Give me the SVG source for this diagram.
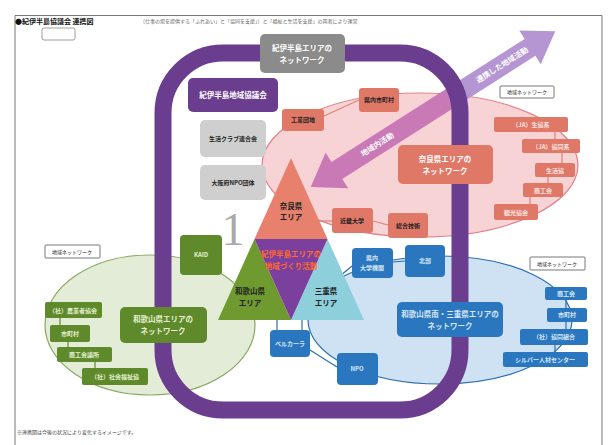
<svg xmlns="http://www.w3.org/2000/svg" width="611" height="445" viewBox="0 0 611 445">
<style>
text{font-family:"Noto Sans CJK JP","Noto Sans",sans-serif;text-anchor:middle}
.t{font-size:6px;font-weight:bold}
.tb{font-size:7.5px;font-weight:bold}
.pk{fill:#e07868}
.pkt{fill:#fde4e0}
.gr{fill:#5e8a2c}
.grt{fill:#e6f0d0}
.bl{fill:#2b77bf}
.blt{fill:#d8e8f8}
.lbl{fill:#fff;stroke:#555;stroke-width:0.8}
.cn{stroke-width:1.2;fill:none}
</style>
<rect width="611" height="445" fill="#fff"/>
<path d="M15 445 V15.5 H602 V445" fill="none" stroke="#777" stroke-width="1"/>
<text x="15" y="24" style="text-anchor:start;font-size:7px;font-weight:bold" fill="#111">●紀伊半島協議会 連携図</text>
<rect x="42" y="28" width="33" height="12" rx="2" fill="#fff" stroke="#888" stroke-width="0.8"/>
<text x="140" y="23" style="text-anchor:start;font-size:5px" fill="#666">（仕事の場を提供する「ふれあい」と「協同を支援」）と「福祉と生活を支援」の両者により運営</text>
<text x="17" y="434" style="text-anchor:start;font-size:5px" fill="#444">※連携図は今後の状況により変化するイメージです。</text>

<g id="ellipses">
<ellipse cx="420" cy="165" rx="158" ry="72" fill="#f8d3d6" stroke="#e0848a" stroke-width="1.2"/>
<ellipse cx="150" cy="325" rx="105" ry="70" fill="#e3ecd6" stroke="#8aa860" stroke-width="1.2"/>
<ellipse cx="440" cy="320" rx="132" ry="64" fill="#cfe2f3" stroke="#2a70b0" stroke-width="1.2"/>
</g>

<g id="arrows" transform="translate(460,92) rotate(-32.5)">
<polygon points="0,-10 83,-10 83,-20 113,0 83,20 83,10 0,10" fill="#b596d2"/>
<polygon points="0,-10 -146,-10 -146,-21 -177,0 -146,21 -146,10 0,10" fill="#c979b6"/>
<text x="50" y="2.5" style="font-size:7.5px;font-weight:bold" fill="#fff">連携した地域活動</text>
<text x="-98" y="2.5" style="font-size:7.5px;font-weight:bold" fill="#fff">地域内活動</text>
</g>

<g id="frame">
<rect x="163" y="53" width="297" height="357" rx="60" fill="none" stroke="#6b3d8f" stroke-width="17"/>
</g>

<g id="connectors">
<line class="cn" x1="324" y1="116" x2="359" y2="100" stroke="#e08070"/>
<line class="cn" x1="555" y1="132" x2="555" y2="139" stroke="#e08070"/>
<line class="cn" x1="562" y1="153" x2="562" y2="163" stroke="#e08070"/>
<line class="cn" x1="548" y1="177" x2="548" y2="183" stroke="#e08070"/>
<line class="cn" x1="530" y1="197" x2="530" y2="204" stroke="#e08070"/>
<line class="cn" x1="316" y1="221" x2="332" y2="221" stroke="#e08070"/>
<line class="cn" x1="373" y1="221" x2="388" y2="225" stroke="#e08070"/>
<line class="cn" x1="340" y1="276" x2="352" y2="266" stroke="#2a70b0"/>
<line class="cn" x1="393" y1="262" x2="405" y2="261" stroke="#2a70b0"/>
<line class="cn" x1="277" y1="320" x2="277" y2="330" stroke="#2a70b0"/>
<line class="cn" x1="302" y1="320" x2="302" y2="330" stroke="#2a70b0"/>
<line class="cn" x1="310" y1="350" x2="337" y2="367" stroke="#2a70b0"/>
<line class="cn" x1="566" y1="300" x2="566" y2="308" stroke="#2a70b0"/>
<line class="cn" x1="566" y1="322" x2="566" y2="329" stroke="#2a70b0"/>
<line class="cn" x1="555" y1="345" x2="555" y2="352" stroke="#2a70b0"/>
<line class="cn" x1="60" y1="318" x2="60" y2="325" stroke="#5e8a2c"/>
<line class="cn" x1="68" y1="342" x2="68" y2="347" stroke="#5e8a2c"/>
<line class="cn" x1="95" y1="362" x2="95" y2="368" stroke="#5e8a2c"/>
</g>

<g id="triangle">
<polygon points="291,158 254.5,239 327.5,239" fill="#e8806e"/>
<polygon points="254.5,239 218,320 291,320" fill="#6f9a2f"/>
<polygon points="327.5,239 291,320 364,320" fill="#8dd0dc"/>
<polygon points="254.5,239 327.5,239 291,320" fill="#7b3f9e"/>
<text x="291" y="209" class="tb" fill="#222">奈良県</text>
<text x="291" y="220" class="tb" fill="#222">エリア</text>
<text x="291" y="257" class="tb" fill="#ff6a2a">紀伊半島エリアの</text>
<text x="291" y="269" class="tb" fill="#ff6a2a">地域づくり活動</text>
<text x="250" y="294" class="tb" fill="#222">和歌山県</text>
<text x="250" y="306" class="tb" fill="#222">エリア</text>
<text x="326" y="294" class="tb" fill="#222">三重県</text>
<text x="326" y="306" class="tb" fill="#222">エリア</text>
</g>

<text x="233" y="245" style="font-family:'Liberation Serif',serif;font-size:46px" fill="#aaa">1</text>

<g id="n-top">
<rect x="260" y="34" width="85" height="39" rx="5" fill="#8b8b8b"/>
<text x="302" y="51" class="tb" fill="#fff">紀伊半島エリアの</text>
<text x="302" y="63" class="tb" fill="#fff">ネットワーク</text>
</g>
<g id="n-kyogikai">
<rect x="188" y="78" width="90" height="34" rx="5" fill="#6b3d8f"/>
<text x="233" y="98" class="tb" fill="#fff">紀伊半島地域協議会</text>
</g>
<g id="n-club">
<rect x="200" y="120" width="66" height="37" rx="5" fill="#cfcfcf"/>
<text x="233" y="141" class="t" fill="#222">生活クラブ連合会</text>
</g>
<g id="n-npo">
<rect x="200" y="165" width="66" height="35" rx="5" fill="#cfcfcf"/>
<text x="233" y="185" class="t" fill="#222">大阪府NPO団体</text>
</g>

<g id="n-kogyo"><rect x="282" y="109" width="42" height="22" rx="3" class="pk"/><text x="303" y="122" class="t" fill="#222">工業団地</text></g>
<g id="n-shichoson"><rect x="359" y="88" width="40" height="24" rx="3" class="pk"/><text x="379" y="102" class="t" fill="#222">県内市町村</text></g>
<g id="n-nara"><rect x="398" y="145" width="95" height="39" rx="5" class="pk"/><text x="445" y="162" class="tb" fill="#fff">奈良県エリアの</text><text x="445" y="174" class="tb" fill="#fff">ネットワーク</text></g>
<g id="n-kinki"><rect x="332" y="208" width="41" height="25" rx="3" class="pk"/><text x="352" y="223" class="t" fill="#222">近畿大学</text></g>
<g id="n-gijutsu"><rect x="388" y="213" width="40" height="25" rx="3" class="pk"/><text x="408" y="228" class="t" fill="#222">総合技術</text></g>
<g id="n-lbl-nara"><rect x="500" y="86" width="54" height="12" rx="1" class="lbl"/><text x="527" y="94" style="font-size:5px" fill="#222">地域ネットワーク</text></g>
<g id="n-p1"><rect x="494" y="117" width="74" height="15" rx="2" class="pk"/><text x="531" y="127" class="t pkt">（JA）生協系</text></g>
<g id="n-p2"><rect x="522" y="139" width="58" height="14" rx="2" class="pk"/><text x="551" y="148.5" class="t pkt">（JA）協同系</text></g>
<g id="n-p3"><rect x="535" y="163" width="40" height="14" rx="2" class="pk"/><text x="555" y="172.5" class="t pkt">生活協</text></g>
<g id="n-p4"><rect x="523" y="183" width="40" height="14" rx="2" class="pk"/><text x="543" y="192.5" class="t pkt">商工会</text></g>
<g id="n-p5"><rect x="494" y="204" width="44" height="16" rx="2" class="pk"/><text x="516" y="214.5" class="t pkt">観光協会</text></g>

<g id="n-kaid"><rect x="180" y="235" width="42" height="40" rx="4" class="gr"/><text x="201" y="257" class="t grt">KAID</text></g>
<g id="n-wakayama"><rect x="120" y="307" width="87" height="36" rx="5" class="gr"/><text x="163" y="322" class="tb grt">和歌山県エリアの</text><text x="163" y="334" class="tb grt">ネットワーク</text></g>
<g id="n-lbl-waka"><rect x="45" y="245" width="55" height="13" rx="1" class="lbl"/><text x="72" y="253.5" style="font-size:5px" fill="#222">地域ネットワーク</text></g>
<g id="n-g1"><rect x="45" y="302" width="57" height="16" rx="2" class="gr"/><text x="73" y="312.5" class="t grt">（社）農業者協会</text></g>
<g id="n-g2"><rect x="50" y="325" width="40" height="17" rx="2" class="gr"/><text x="70" y="336" class="t grt">市町村</text></g>
<g id="n-g3"><rect x="57" y="347" width="55" height="15" rx="2" class="gr"/><text x="84" y="357" class="t grt">商工会議所</text></g>
<g id="n-g4"><rect x="82" y="368" width="66" height="17" rx="2" class="gr"/><text x="115" y="379" class="t grt">（社）社会福祉協</text></g>

<g id="n-daigaku"><rect x="352" y="248" width="41" height="30" rx="4" class="bl"/><text x="372" y="260" class="t blt">県内</text><text x="372" y="270" class="t blt">大学機関</text></g>
<g id="n-hokubu"><rect x="405" y="245" width="40" height="32" rx="4" class="bl"/><text x="425" y="263" class="t blt">北部</text></g>
<g id="n-mie"><rect x="397" y="302" width="106" height="35" rx="5" class="bl"/><text x="450" y="317" class="tb blt">和歌山県南・三重県エリアの</text><text x="450" y="329" class="tb blt">ネットワーク</text></g>
<g id="n-npo2"><rect x="337" y="353" width="41" height="32" rx="4" class="bl"/><text x="357" y="371" class="t blt">NPO</text></g>
<g id="n-bell"><rect x="270" y="330" width="40" height="27" rx="4" class="bl"/><text x="290" y="346" class="t blt">ベルカーラ</text></g>
<g id="n-lbl-mie"><rect x="530" y="257" width="55" height="13" rx="1" class="lbl"/><text x="557" y="265.5" style="font-size:5px" fill="#222">地域ネットワーク</text></g>
<g id="n-b1"><rect x="545" y="287" width="42" height="13" rx="2" class="bl"/><text x="566" y="295.5" class="t blt">商工会</text></g>
<g id="n-b2"><rect x="547" y="308" width="40" height="14" rx="2" class="bl"/><text x="567" y="317" class="t blt">市町村</text></g>
<g id="n-b3"><rect x="520" y="329" width="68" height="16" rx="2" class="bl"/><text x="554" y="339" class="t blt">（社）協同組合</text></g>
<g id="n-b4"><rect x="503" y="352" width="85" height="15" rx="2" class="bl"/><text x="545" y="362" class="t blt">シルバー人材センター</text></g>
</svg>
